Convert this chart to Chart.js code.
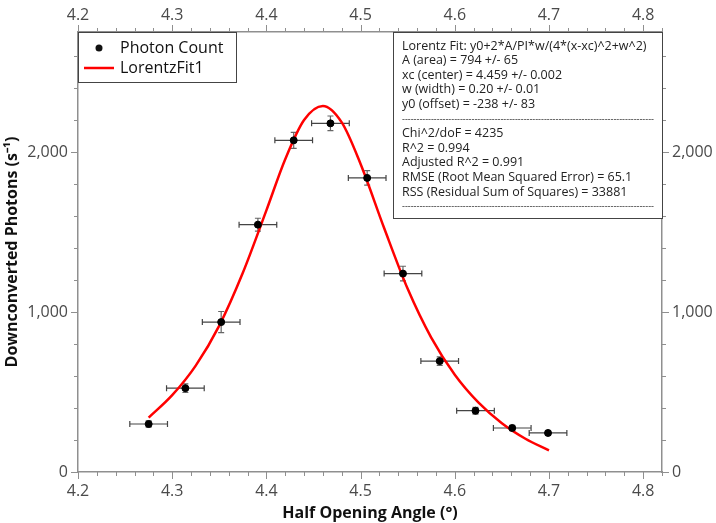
<!DOCTYPE html>
<html>
<head>
<meta charset="utf-8">
<script src="https://cdn.jsdelivr.net/npm/chart.js@4.4.1/dist/chart.umd.min.js"></script>
<style>
  html, body { margin: 0; padding: 0; background: #fff; }
  #chart { display: block; }
</style>
</head>
<body>
<canvas id="chart" width="716" height="523"></canvas>
<script>
// --- Measured photon counts (angle in degrees, counts per second) ---
const angles   = [4.275, 4.314, 4.352, 4.391, 4.429, 4.468, 4.507, 4.545, 4.584, 4.622, 4.661, 4.699];
const counts   = [300, 524, 937, 1546, 2073, 2179, 1838, 1240, 693, 383, 275, 244];
const angleErr = [0.02, 0.02, 0.02, 0.02, 0.02, 0.02, 0.02, 0.02, 0.02, 0.02, 0.02, 0.02];
const countErr = [20, 27, 66, 40, 50, 46, 45, 46, 26, 21, 17, 15];

// --- Lorentz fit curve ---
const fitAngles = [4.275, 4.30, 4.325, 4.35, 4.375, 4.40, 4.42, 4.44, 4.46, 4.48, 4.50, 4.525, 4.55, 4.575, 4.60, 4.625, 4.65, 4.675, 4.70];
const fitCounts = [340, 480, 665, 915, 1245, 1635, 1955, 2200, 2288, 2185, 1925, 1525, 1145, 840, 608, 435, 305, 208, 135];

// --- Axis ticks ---
const xMajorTicks = [4.2, 4.3, 4.4, 4.5, 4.6, 4.7, 4.8];
const yMajorTicks = [0, 1000, 2000];

const fitSummary = [
    'Lorentz Fit: y0+2*A/PI*w/(4*(x-xc)^2+w^2)',
    'A (area) = 794 +/- 65',
    'xc (center) = 4.459 +/- 0.002',
    'w (width) = 0.20 +/- 0.01',
    'y0 (offset) = -238 +/- 83',
    '---',
    'Chi^2/doF = 4235',
    'R^2 = 0.994',
    'Adjusted R^2 = 0.991',
    'RMSE (Root Mean Squared Error) = 65.1',
    'RSS (Residual Sum of Squares) = 33881',
    '---'
];

const axisGrey = '#8f8f8f';
const tickText = '#4a4a4a';
const FONT = "'Open Sans', sans-serif";

Chart.defaults.font.family = FONT;

function isOn(v, step) {
    return Math.abs(v / step - Math.round(v / step)) < 1e-6;
}
function xLabel(v) {
    return xMajorTicks.some(t => Math.abs(t - v) < 1e-6) ? v.toFixed(1) : '';
}
function yLabel(v) {
    return yMajorTicks.includes(v) ? v.toLocaleString('en-US') : '';
}

const majorStep = { x: 0.1, x2: 0.1, y: 1000, y2: 1000 };

// Short minor / long major tick marks pointing out of the frame
const axisTicks = {
    id: 'axisTicks',
    afterDraw(chart) {
        const { ctx, chartArea: a } = chart;
        ctx.save();
        ctx.strokeStyle = axisGrey;
        ctx.lineWidth = 1;
        Object.values(chart.scales).forEach(scale => {
            const step = scale.options.ticks.stepSize;
            const min = scale.options.min;
            scale.ticks.forEach(t => {
                if (!isOn(t.value - min, step)) return;
                const len = isOn(t.value, majorStep[scale.id]) ? 7 : 4;
                const p = Math.round(scale.getPixelForValue(t.value)) + 0.5;
                ctx.beginPath();
                if (scale.position === 'bottom') { ctx.moveTo(p, a.bottom); ctx.lineTo(p, a.bottom + len); }
                if (scale.position === 'top')    { ctx.moveTo(p, a.top);    ctx.lineTo(p, a.top - len); }
                if (scale.position === 'left')   { ctx.moveTo(a.left, p);   ctx.lineTo(a.left - len, p); }
                if (scale.position === 'right')  { ctx.moveTo(a.right, p);  ctx.lineTo(a.right + len, p); }
                ctx.stroke();
            });
        });
        ctx.restore();
    }
};

// x / y uncertainty bars under the points
const errorBars = {
    id: 'errorBars',
    beforeDatasetsDraw(chart) {
        const { ctx, scales: { x, y } } = chart;
        const cap = 3;
        ctx.save();
        ctx.lineWidth = 1.2;
        angles.forEach((ang, i) => {
            const px = x.getPixelForValue(ang);
            const py = y.getPixelForValue(counts[i]);
            const xl = x.getPixelForValue(ang - angleErr[i]);
            const xr = x.getPixelForValue(ang + angleErr[i]);
            const yt = y.getPixelForValue(counts[i] + countErr[i]);
            const yb = y.getPixelForValue(counts[i] - countErr[i]);

            ctx.strokeStyle = '#444';
            ctx.beginPath();
            ctx.moveTo(xl, py); ctx.lineTo(xr, py);
            ctx.moveTo(xl, py - cap); ctx.lineTo(xl, py + cap);
            ctx.moveTo(xr, py - cap); ctx.lineTo(xr, py + cap);
            ctx.stroke();

            ctx.strokeStyle = '#666';
            ctx.beginPath();
            ctx.moveTo(px, yt); ctx.lineTo(px, yb);
            ctx.moveTo(px - cap, yt); ctx.lineTo(px + cap, yt);
            ctx.moveTo(px - cap, yb); ctx.lineTo(px + cap, yb);
            ctx.stroke();
        });
        ctx.restore();
    }
};

// Boxed legend in the top-left corner and the fit results box on the right
const boxes = {
    id: 'boxes',
    afterDraw(chart) {
        const { ctx, chartArea: a } = chart;
        const ds = chart.data.datasets;
        ctx.save();

        // legend
        const lx = a.left, ly = a.top, lw = 158, lh = 50;
        ctx.fillStyle = '#fff';
        ctx.fillRect(lx, ly, lw, lh);
        ctx.strokeStyle = '#444';
        ctx.lineWidth = 1;
        ctx.strokeRect(lx + 0.5, ly + 0.5, lw, lh);
        ctx.font = `16px ${FONT}`;
        ctx.textBaseline = 'middle';
        ctx.fillStyle = '#111';
        ctx.beginPath();
        ctx.arc(lx + 21, ly + 16, 3.5, 0, Math.PI * 2);
        ctx.fill();
        ctx.fillText(ds[0].label, lx + 42, ly + 16);
        ctx.strokeStyle = ds[1].borderColor;
        ctx.lineWidth = 2.5;
        ctx.beginPath();
        ctx.moveTo(lx + 6, ly + 36); ctx.lineTo(lx + 36, ly + 36);
        ctx.stroke();
        ctx.fillText(ds[1].label, lx + 42, ly + 36);

        // fit results
        const bx = 393, by = a.top, bw = a.right - bx, bh = 186;
        ctx.fillStyle = '#fff';
        ctx.fillRect(bx, by, bw, bh);
        ctx.strokeStyle = '#444';
        ctx.lineWidth = 1;
        ctx.strokeRect(bx + 0.5, by + 0.5, bw, bh);
        ctx.font = `12.5px ${FONT}`;
        ctx.fillStyle = '#222';
        fitSummary.forEach((line, i) => {
            let text = line;
            if (line === '---') {
                text = '';
                ctx.font = `9px ${FONT}`;
                while (ctx.measureText(text).width < 250) text += '-';
            }
            ctx.fillText(text, bx + 9, by + 14 + i * 14.6);
            ctx.font = `12.5px ${FONT}`;
        });
        ctx.restore();
    }
};

const xScale = (position, height, title) => ({
    type: 'linear',
    position,
    min: 4.2,
    max: 4.82,
    afterFit: s => { s.height = height; },
    border: { color: axisGrey, width: 1.5 },
    grid: { display: false, drawOnChartArea: false, drawTicks: false },
    ticks: {
        stepSize: 0.02, autoSkip: false, maxRotation: 0, minRotation: 0,
        padding: position === 'bottom' ? 10 : 7,
        color: tickText, font: { size: 16 },
        callback: v => xLabel(v)
    },
    title: title ? {
        display: true, text: title, color: '#111',
        font: { size: 16, weight: 'bold' }, padding: { top: 0, bottom: 0 }
    } : { display: false }
});

const yScale = (position, width, title) => ({
    type: 'linear',
    position,
    min: 0,
    max: 2750,
    afterFit: s => { s.width = width; },
    border: { color: axisGrey, width: 1.5 },
    grid: { display: false, drawOnChartArea: false, drawTicks: false },
    ticks: {
        stepSize: 200, autoSkip: false,
        padding: 10,
        color: tickText, font: { size: 16 },
        callback: v => yLabel(v)
    },
    title: title ? {
        display: true, text: title, color: '#111',
        font: { size: 16, weight: 'bold' }, padding: { top: 3, bottom: 0 }
    } : { display: false }
});

new Chart(document.getElementById('chart'), {
    type: 'scatter',
    data: {
        datasets: [
            {
                label: 'Photon Count',
                data: angles.map((a, i) => ({ x: a, y: counts[i] })),
                backgroundColor: '#000',
                borderColor: '#000',
                pointRadius: 3.5,
                pointHoverRadius: 3.5
            },
            {
                label: 'LorentzFit1',
                data: fitAngles.map((a, i) => ({ x: a, y: fitCounts[i] })),
                showLine: true,
                borderColor: '#ff0000',
                borderWidth: 2.5,
                pointRadius: 0,
                cubicInterpolationMode: 'monotone'
            }
        ]
    },
    options: {
        responsive: false,
        animation: false,
        layout: { padding: 0 },
        plugins: {
            legend: { display: false },
            tooltip: { enabled: false }
        },
        scales: {
            x: xScale('bottom', 51, 'Half Opening Angle (°)'),
            x2: xScale('top', 32, null),
            y: yScale('left', 78, 'Downconverted Photons (s⁻¹)'),
            y2: yScale('right', 54, null)
        }
    },
    plugins: [errorBars, axisTicks, boxes]
});
</script>
</body>
</html>
